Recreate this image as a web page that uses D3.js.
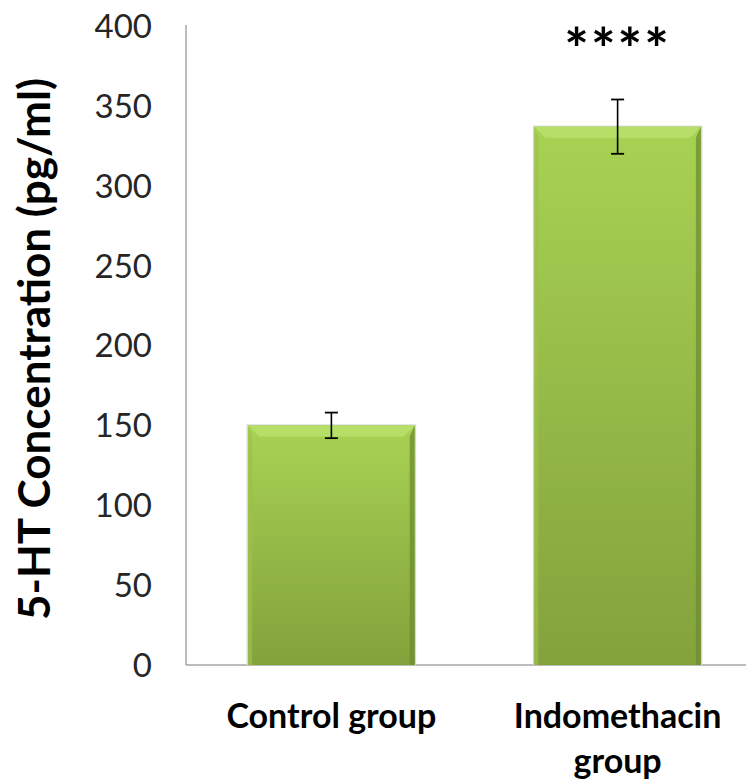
<!DOCTYPE html>
<html>
<head>
<meta charset="utf-8">
<script src="https://cdn.jsdelivr.net/npm/d3@7"></script>
<style>
  body { margin: 0; background: #fff; }
  svg { display: block; }
  text { font-family: Lato, "Open Sans", sans-serif; }
</style>
</head>
<body>
<svg id="chart" width="746" height="783"></svg>
<script>
// values
const groups = ["Control group", "Indomethacin group"];
const means = [150, 337];
const errors = [8, 17];
const stars = ["", "****"];
const yTicks = [0, 50, 100, 150, 200, 250, 300, 350, 400];

const svg = d3.select("#chart");

let y = d3.scaleLinear().domain([0, 400]).range([665, 26]);
let x = d3.scaleBand().domain(groups).range([186, 763])
    .paddingInner(0.418).paddingOuter(0.217);

// gradients for the bevelled bars
let defs = svg.append("defs");
let g1 = defs.append("linearGradient").attr("id", "barFill")
    .attr("x1", 0).attr("y1", 0).attr("x2", 0).attr("y2", 1);
g1.append("stop").attr("offset", "0%").attr("stop-color", "#a8d253");
g1.append("stop").attr("offset", "100%").attr("stop-color", "#83a23c");

let bars = groups.map((g, i) => ({ name: g, v: means[i], e: errors[i], s: stars[i] }));

// axis lines
svg.append("line")
    .attr("x1", 186).attr("x2", 186).attr("y1", y(400) - 1).attr("y2", y(0))
    .attr("stroke", "#a6a6a6").attr("stroke-width", 1.5);
svg.append("line")
    .attr("x1", 186).attr("x2", 746).attr("y1", y(0)).attr("y2", y(0))
    .attr("stroke", "#a6a6a6").attr("stroke-width", 1.5);

// tick labels
svg.append("g").selectAll("text").data(yTicks).join("text")
    .attr("x", 152).attr("y", d => y(d))
    .attr("dy", "0.36em")
    .attr("text-anchor", "end")
    .attr("font-size", 33)
    .attr("fill", "#262626")
    .text(d => d);

let bw = x.bandwidth();
let bev = 11;

let bar = svg.append("g").selectAll("g").data(bars).join("g");

// shadow
bar.append("rect")
    .attr("x", d => x(d.name) - 1.5).attr("y", d => y(d.v) - 1)
    .attr("width", bw + 3).attr("height", d => y(0) - y(d.v) + 1)
    .attr("fill", "#d6d6d6");

bar.append("rect")
    .attr("x", d => x(d.name)).attr("y", d => y(d.v))
    .attr("width", bw).attr("height", d => y(0) - y(d.v))
    .attr("fill", "url(#barFill)");

// top bevel
bar.append("path")
    .attr("d", d => {
        let x0 = x(d.name), y0 = y(d.v);
        return `M${x0},${y0}L${x0 + bw},${y0}L${x0 + bw - bev},${y0 + bev}L${x0 + bev},${y0 + bev}Z`;
    })
    .attr("fill", "#b9e26c").attr("opacity", 0.85);

// left bevel
bar.append("path")
    .attr("d", d => {
        let x0 = x(d.name), y0 = y(d.v), y1 = y(0);
        return `M${x0},${y0}L${x0 + 4},${y0 + bev}L${x0 + 4},${y1}L${x0},${y1}Z`;
    })
    .attr("fill", "#9cc04a").attr("opacity", 0.7);

// right bevel, darker
bar.append("path")
    .attr("d", d => {
        let x0 = x(d.name) + bw, y0 = y(d.v), y1 = y(0);
        return `M${x0},${y0}L${x0 - 5},${y0 + bev}L${x0 - 5},${y1}L${x0},${y1}Z`;
    })
    .attr("fill", "#6e8c2e").attr("opacity", 0.75);

// error bars
let cx = d => x(d.name) + bw / 2;
bar.append("line")
    .attr("x1", cx).attr("x2", cx)
    .attr("y1", d => y(d.v + d.e)).attr("y2", d => y(d.v - d.e))
    .attr("stroke", "#000").attr("stroke-width", 1.6);
bar.selectAll(".cap").data(d => [[d, d.v + d.e], [d, d.v - d.e]]).join("line")
    .attr("class", "cap")
    .attr("x1", d => cx(d[0]) - 6.5).attr("x2", d => cx(d[0]) + 6.5)
    .attr("y1", d => y(d[1])).attr("y2", d => y(d[1]))
    .attr("stroke", "#000").attr("stroke-width", 1.8);

// significance stars
bar.append("text")
    .attr("x", cx).attr("y", 70)
    .attr("text-anchor", "middle")
    .attr("font-size", 58)
    .attr("font-weight", "bold")
    .attr("letter-spacing", 2)
    .attr("fill", "#000")
    .text(d => d.s);

// category labels, wrapped like the original
let labelLines = [["Control group"], ["Indomethacin", "group"]];
bar.append("text")
    .attr("text-anchor", "middle")
    .attr("font-size", 34)
    .attr("font-weight", "bold")
    .attr("fill", "#000")
    .selectAll("tspan").data((d, i) => labelLines[i].map(t => [d, t])).join("tspan")
    .attr("x", d => cx(d[0]))
    .attr("y", (d, j) => 728 + j * 45)
    .text(d => d[1]);

// y title
svg.append("text")
    .attr("transform", `translate(50,349) rotate(-90)`)
    .attr("text-anchor", "middle")
    .attr("font-size", 44)
    .attr("font-weight", "bold")
    .attr("fill", "#000")
    .text("5-HT Concentration (pg/ml)");
</script>
</body>
</html>
